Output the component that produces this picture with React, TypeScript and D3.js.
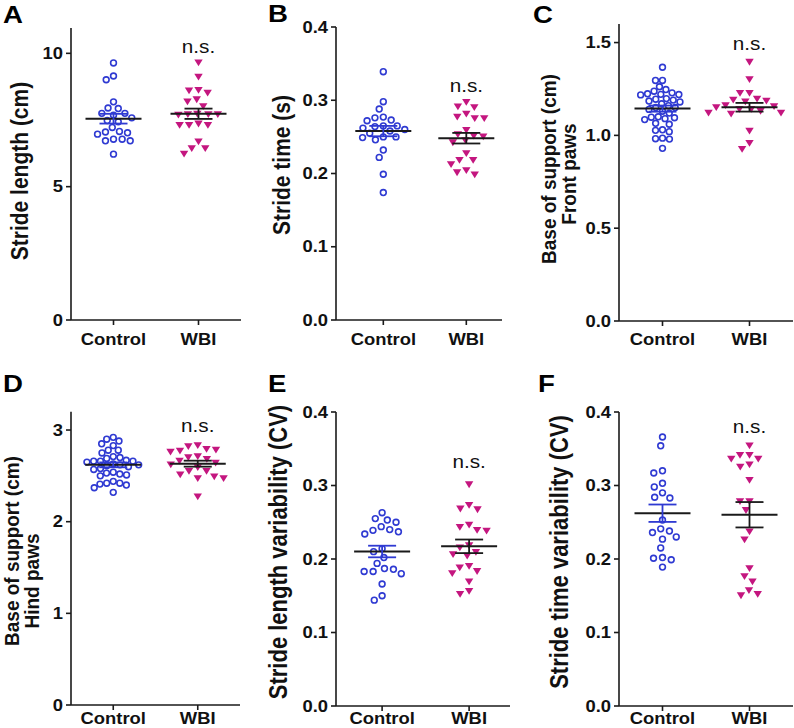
import React from "react";
import * as d3 from "d3";

// groups on every x axis
const groups = ["Control", "WBI"];

// A - stride length (cm)
const strideLengthControl = [9.64, 9.15, 9.01, 8.18, 7.95, 7.93, 7.75, 7.75, 7.68, 7.58, 7.48, 7.43, 7.22, 7.07, 7.05, 7.02, 6.97, 6.78, 6.78, 6.72, 6.72, 6.22];
const strideLengthWbi = [9.64, 9.11, 8.61, 8.59, 8.51, 8.26, 8.18, 8.0, 7.72, 7.7, 7.7, 7.7, 7.68, 7.35, 7.3, 7.3, 7.3, 6.68, 6.43, 6.43, 6.22];

// B - stride time (s)
const strideTimeControl = [0.339, 0.298, 0.288, 0.277, 0.276, 0.273, 0.272, 0.265, 0.265, 0.264, 0.262, 0.26, 0.258, 0.255, 0.25, 0.25, 0.249, 0.246, 0.232, 0.222, 0.199, 0.174];
const strideTimeWbi = [0.297, 0.291, 0.29, 0.281, 0.277, 0.275, 0.275, 0.259, 0.253, 0.251, 0.25, 0.245, 0.242, 0.227, 0.218, 0.218, 0.212, 0.204, 0.201, 0.198];

// C - base of support, front paws (cm)
const frontControl = [1.367, 1.296, 1.296, 1.262, 1.247, 1.238, 1.229, 1.224, 1.221, 1.218, 1.22, 1.195, 1.198, 1.19, 1.185, 1.18, 1.17, 1.16, 1.15, 1.15, 1.14, 1.13, 1.12, 1.1, 1.098, 1.095, 1.09, 1.085, 1.065, 1.06, 1.03, 1.027, 1.02, 0.985, 0.982, 0.98, 0.93];
const frontWbi = [1.394, 1.3, 1.226, 1.226, 1.195, 1.18, 1.19, 1.185, 1.16, 1.155, 1.15, 1.14, 1.14, 1.13, 1.12, 1.12, 1.115, 1.023, 0.957, 0.925];

// D - base of support, hind paws (cm)
const hindControl = [2.92, 2.9, 2.88, 2.85, 2.83, 2.78, 2.78, 2.75, 2.71, 2.7, 2.69, 2.67, 2.66, 2.66, 2.65, 2.66, 2.63, 2.62, 2.62, 2.6, 2.61, 2.57, 2.58, 2.54, 2.53, 2.51, 2.5, 2.52, 2.44, 2.42, 2.41, 2.4, 2.42, 2.37, 2.32];
const hindWbi = [2.83, 2.82, 2.79, 2.78, 2.77, 2.76, 2.71, 2.7, 2.68, 2.66, 2.64, 2.62, 2.59, 2.55, 2.55, 2.51, 2.49, 2.47, 2.47, 2.27];

// E - stride length variability (CV)
const lengthCvControl = [0.263, 0.255, 0.253, 0.25, 0.244, 0.24, 0.239, 0.237, 0.234, 0.214, 0.21, 0.202, 0.194, 0.187, 0.186, 0.183, 0.183, 0.18, 0.166, 0.15, 0.144];
const lengthCvWbi = [0.301, 0.273, 0.268, 0.267, 0.246, 0.243, 0.239, 0.238, 0.218, 0.215, 0.209, 0.206, 0.204, 0.19, 0.188, 0.183, 0.18, 0.169, 0.156, 0.152];

// F - stride time variability (CV)
const timeCvControl = [0.366, 0.354, 0.32, 0.317, 0.303, 0.298, 0.29, 0.284, 0.283, 0.253, 0.241, 0.238, 0.236, 0.23, 0.227, 0.215, 0.202, 0.201, 0.199, 0.189];
const timeCvWbi = [0.354, 0.341, 0.341, 0.336, 0.336, 0.328, 0.325, 0.307, 0.278, 0.278, 0.266, 0.237, 0.226, 0.187, 0.176, 0.169, 0.157, 0.152, 0.15];

// y tick values
const ticksA = [0, 5, 10];
const ticksB = [0, 0.1, 0.2, 0.3, 0.4];
const ticksC = [0, 0.5, 1.0, 1.5];
const ticksD = [0, 1, 2, 3];
const ticksE = [0, 0.1, 0.2, 0.3, 0.4];
const ticksF = [0, 0.1, 0.2, 0.3, 0.4];

const FONT = "'Liberation Sans', Arial, Helvetica, sans-serif";
const BLUE = "#2f3ad2";
const MAGENTA = "#c4167f";
const INK = "#1a1a1a";
// the source figure is slightly stretched horizontally, text included
const SX = 1.15;

// layout for each panel (pixels); cd = spacing of the open circles
const panels = [
  { letter: "A", lx: 3, ly: 23, control: strideLengthControl, wbi: strideLengthWbi, max: 10.95, ticks: ticksA, fmt: "d",
    axisX: 71, axisEnd: 241, bottom: 320, top: 28, align: 0.5, ns: 10.0, labelY: 345, cd: 8.2,
    ylab: [{ t: "Stride length (cm)", x: 28, cy: 171 }], yfs: 21, ysx: SX },
  { letter: "B", lx: 268, ly: 22, control: strideTimeControl, wbi: strideTimeWbi, max: 0.4, ticks: ticksB, fmt: ".1f",
    axisX: 336, axisEnd: 502, bottom: 320, top: 27, align: 0.57, ns: 0.311, labelY: 345, cd: 8.4,
    ylab: [{ t: "Stride time (s)", x: 290, cy: 165 }], yfs: 21, ysx: SX },
  { letter: "C", lx: 533, ly: 23, control: frontControl, wbi: frontWbi, max: 1.6, ticks: ticksC, fmt: ".1f",
    axisX: 619, axisEnd: 793, bottom: 321, top: 24, align: 0.5, ns: 1.462, labelY: 345, cd: 7.0,
    ylab: [{ t: "Base of support (cm)", x: 556, cy: 169 }, { t: "Front paws", x: 576, cy: 174 }], yfs: 19, ysx: 1.05 },
  { letter: "D", lx: 3, ly: 392, control: hindControl, wbi: hindWbi, max: 3.2, ticks: ticksD, fmt: "d",
    axisX: 71, axisEnd: 240, bottom: 705, top: 411.7, align: 0.5, ns: 2.98, labelY: 724, cd: 6.8,
    ylab: [{ t: "Base of support (cm)", x: 19, cy: 551 }, { t: "Hind paws", x: 39, cy: 581 }], yfs: 19, ysx: 1.05 },
  { letter: "E", lx: 268, ly: 392, control: lengthCvControl, wbi: lengthCvWbi, max: 0.4, ticks: ticksE, fmt: ".1f",
    axisX: 336, axisEnd: 510, bottom: 706, top: 412, align: 0.53, ns: 0.324, labelY: 724, cd: 9,
    ylab: [{ t: "Stride length variability (CV)", x: 287, cy: 552 }], yfs: 22, ysx: SX },
  { letter: "F", lx: 538, ly: 392, control: timeCvControl, wbi: timeCvWbi, max: 0.4, ticks: ticksF, fmt: ".1f",
    axisX: 619, axisEnd: 793, bottom: 706, top: 412, align: 0.5, ns: 0.371, labelY: 724, cd: 9,
    ylab: [{ t: "Stride time variability (CV)", x: 568, cy: 552 }], yfs: 22, ysx: SX },
];

// simple beeswarm: place points (sorted by y) at the smallest |dx| free slot
function swarm(values: number[], y: (v: number) => number, d: number) {
  const pts = values.map((v) => ({ v, py: y(v), dx: 0 })).sort((a, b) => a.py - b.py);
  const placed: { py: number; dx: number }[] = [];
  for (const p of pts) {
    const near = placed.filter((q) => Math.abs(q.py - p.py) < d);
    const cands = [0];
    for (const q of near) {
      const w = Math.sqrt(d * d - (q.py - p.py) ** 2);
      cands.push(q.dx + w, q.dx - w);
    }
    cands.sort((a, b) => Math.abs(a) - Math.abs(b) || a - b);
    for (const c of cands) {
      if (near.every((q) => (q.dx - c) ** 2 + (q.py - p.py) ** 2 >= d * d - 0.01)) {
        p.dx = c;
        break;
      }
    }
    placed.push(p);
  }
  return pts;
}

// text drawn with the same horizontal stretch as the source
function T({ x, y, rot, sx = SX, children, ...rest }: any) {
  return (
    <text transform={`translate(${x},${y}) scale(${sx},1)${rot ? " rotate(-90)" : ""}`} {...rest}>
      {children}
    </text>
  );
}

function PanelView({ p }: { p: any }) {
  const y = d3.scaleLinear().domain([0, p.max]).range([p.bottom, p.top]);
  const x = d3.scalePoint<string>().domain(groups).range([p.axisX, p.axisEnd]).padding(0.5).align(p.align);
  const fmt = d3.format(p.fmt);

  const series = [
    { name: "Control", values: p.control as number[], kind: "circle", color: BLUE, semColor: BLUE, d: p.cd },
    { name: "WBI", values: p.wbi as number[], kind: "tri", color: MAGENTA, semColor: INK, d: 9.5 },
  ];

  return (
    <g>
      <T x={p.lx} y={p.ly} fontSize={24} fontWeight="bold" fill="#000">{p.letter}</T>

      {p.ylab.map((l: any, i: number) => (
        <T key={i} x={l.x} y={l.cy} rot sx={p.ysx} textAnchor="middle" fontSize={p.yfs} fontWeight="bold" fill="#111">{l.t}</T>
      ))}

      {/* y axis */}
      <line x1={p.axisX} x2={p.axisX} y1={p.bottom} y2={p.top} stroke={INK} strokeWidth={1.6} />
      {p.ticks.map((t: number) => (
        <g key={t}>
          <line x1={p.axisX - 5} x2={p.axisX} y1={y(t)} y2={y(t)} stroke={INK} strokeWidth={1.6} />
          <T x={p.axisX - 8} y={y(t)} dy="0.35em" textAnchor="end" fontSize={16} fontWeight="bold" fill="#111">{fmt(t)}</T>
        </g>
      ))}

      {/* x axis */}
      <line x1={p.axisX} x2={p.axisEnd} y1={p.bottom} y2={p.bottom} stroke={INK} strokeWidth={1.6} />
      {groups.map((g) => (
        <g key={g}>
          <line x1={x(g)} x2={x(g)} y1={p.bottom} y2={p.bottom + 5} stroke={INK} strokeWidth={1.6} />
          <T x={x(g)} y={p.labelY} textAnchor="middle" fontSize={16} fontWeight="bold" fill="#111">{g}</T>
        </g>
      ))}

      {series.map((s) => {
        const cx = x(s.name) as number;
        const pts = swarm(s.values, y, s.d);
        const mean = d3.mean(s.values) as number;
        const sem = (d3.deviation(s.values) as number) / Math.sqrt(s.values.length);
        return (
          <g key={s.name}>
            {pts.map((pt, i) =>
              s.kind === "circle" ? (
                <circle key={i} cx={cx + pt.dx} cy={pt.py} r={2.9} fill="white" stroke={s.color} strokeWidth={1.6} />
              ) : (
                <path key={i} transform={`translate(${cx + pt.dx},${pt.py})`} d="M-4.2,-3.4L4.2,-3.4L0,3.4Z" fill={s.color} />
              )
            )}
            <line x1={cx - 28} x2={cx + 28} y1={y(mean)} y2={y(mean)} stroke={INK} strokeWidth={2} />
            <line x1={cx} x2={cx} y1={y(mean - sem)} y2={y(mean + sem)} stroke={s.semColor} strokeWidth={1.8} />
            <line x1={cx - 14} x2={cx + 14} y1={y(mean + sem)} y2={y(mean + sem)} stroke={s.semColor} strokeWidth={1.8} />
            <line x1={cx - 14} x2={cx + 14} y1={y(mean - sem)} y2={y(mean - sem)} stroke={s.semColor} strokeWidth={1.8} />
          </g>
        );
      })}

      <T x={x("WBI")} y={y(p.ns)} textAnchor="middle" fontSize={18} fill="#111">n.s.</T>
    </g>
  );
}

export default function App() {
  return (
    <svg width={794} height={728} fontFamily={FONT}
      style={{ position: "absolute", left: 0, top: 0, display: "block", background: "white" }}>
      <rect width={794} height={728} fill="white" />
      {panels.map((p) => <PanelView key={p.letter} p={p} />)}
    </svg>
  );
}
